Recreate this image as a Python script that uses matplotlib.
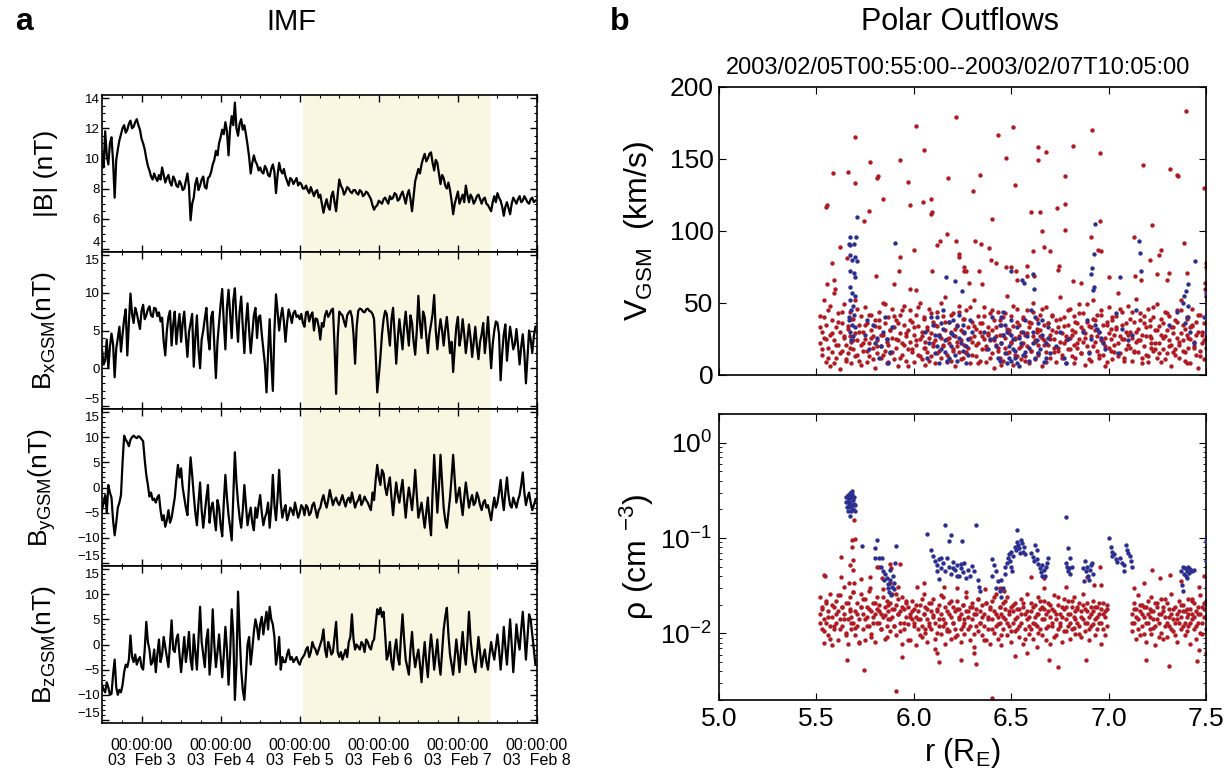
import numpy as np
import matplotlib
matplotlib.use("Agg")
import matplotlib.pyplot as plt
from matplotlib.ticker import MultipleLocator, FixedLocator, NullFormatter, LogLocator

plt.rcParams['font.family'] = ['Liberation Sans', 'DejaVu Sans']
plt.rcParams['mathtext.fontset'] = 'custom'
plt.rcParams['mathtext.rm'] = 'Liberation Sans'
plt.rcParams['mathtext.it'] = 'Liberation Sans:italic'

# ---------------- IMF data (days since 2003-02-03 00:00, ~30 min samples) ----------------
t_start, t_step = -0.5, 0.02
b_mag = [10.3, 9.4, 11.8, 10.2, 9.6, 11.0, 11.4, 9.8, 7.4, 9.9,
         10.6, 11.2, 11.6, 12.0, 12.2, 11.7, 11.9, 12.3, 12.5, 12.0,
         12.1, 12.4, 12.6, 12.2, 11.9, 11.3, 11.0, 10.6, 10.0, 9.5,
         9.2, 8.8, 8.6, 9.0, 8.7, 8.5, 8.9, 8.6, 9.4, 8.9,
         8.4, 8.7, 8.9, 8.4, 8.2, 8.8, 8.6, 8.2, 8.1, 8.5,
         8.3, 7.9, 8.0, 8.5, 9.0, 8.1, 5.9, 7.0, 7.4, 8.3,
         8.7, 7.9, 8.2, 8.6, 8.8, 8.1, 8.0, 8.7, 8.8, 9.1,
         9.6, 9.9, 10.5, 10.2, 11.0, 11.4, 11.9, 11.6, 12.4, 11.8,
         10.2, 12.0, 12.8, 12.2, 13.7, 12.0, 11.5, 12.3, 12.6, 11.9,
         12.2, 11.6, 10.9, 10.1, 9.0, 9.7, 10.2, 9.8, 9.6, 9.2,
         9.4, 9.1, 9.0, 9.5, 9.3, 8.9, 8.8, 9.3, 9.6, 9.1,
         7.7, 8.9, 9.7, 9.2, 9.0, 9.3, 8.8, 8.5, 8.2, 8.7,
         8.6, 8.3, 8.5, 8.7, 8.2, 8.4, 8.3, 8.0, 8.0, 8.2,
         7.9, 7.7, 8.1, 7.8, 7.5, 7.8, 7.9, 7.4, 7.6, 7.0,
         6.4, 6.9, 7.3, 6.8, 6.6, 7.5, 7.8, 7.1, 6.5, 7.6,
         8.6, 8.2, 8.0, 7.6, 7.8, 8.1, 8.0, 7.8, 7.7, 7.9,
         7.9, 7.7, 7.6, 7.9, 7.8, 7.5, 7.6, 7.8, 7.7, 7.5,
         7.3, 6.9, 6.6, 6.8, 6.9, 7.2, 7.1, 7.0, 7.3, 7.4,
         7.2, 7.0, 7.5, 7.3, 7.4, 7.7, 7.6, 7.2, 7.3, 7.6,
         7.8, 7.4, 7.0, 7.6, 7.9, 7.3, 6.5, 7.5, 8.5, 8.9,
         9.3, 9.0, 9.6, 10.0, 10.3, 9.8, 10.0, 10.3, 10.4, 9.7,
         9.2, 9.9, 9.7, 9.0, 8.3, 8.9, 8.7, 8.2, 8.0, 8.4,
         7.9, 7.2, 6.3, 7.0, 7.4, 7.8, 7.0, 7.3, 7.6, 7.1,
         8.2, 7.6, 7.1, 7.6, 7.4, 7.0, 7.2, 7.5, 7.6, 7.3,
         7.0, 7.3, 7.4, 7.0, 6.9, 6.7, 6.5, 7.1, 7.5, 7.1,
         7.7, 7.4, 7.2, 6.8, 6.2, 6.8, 7.1, 6.7, 6.3, 7.0,
         7.4, 7.2, 7.0, 7.3, 7.5, 7.1, 7.2, 7.5, 7.3, 7.1,
         7.0, 7.3, 7.4, 7.1, 7.2]
bx_gsm = [2.5, 0.5, 1.0, 3.8, 0.0, 2.8, 4.6, 3.2, -1.2, 2.6,
          4.0, 5.5, 2.2, 4.5, 6.5, 7.8, 1.7, 6.0, 9.9, 7.2,
          6.0, 8.0, 7.3, 6.2, 5.2, 7.6, 8.4, 6.5, 7.0, 7.8,
          8.2, 7.0, 6.8, 8.0, 7.9, 6.9, 7.4, 6.2, 6.7, 3.5,
          1.7, 5.0, 6.8, 7.6, 3.0, 5.8, 7.5, 3.2, 5.5, 7.2,
          3.5, 6.0, 7.5, 4.2, 1.5, 4.8, 6.0, 7.2, 0.2, 4.0,
          7.0, 2.5, 0.0, 3.8, 5.0, 6.6, 8.0, 4.2, 2.5, 6.8,
          7.5, 3.0, -1.3, 3.5, 6.0, 8.5, 10.5, 6.0, 2.5, 8.0,
          10.4, 7.2, 4.0, 9.0, 10.6, 6.5, 3.5, 7.5, 9.5, 5.5,
          2.0, 6.0, 8.6, 5.0, 2.0, 4.5, 7.0, 8.0, 4.0, 6.8,
          7.0, 4.5, 2.5, 0.5, -3.2, 2.0, 6.5, 1.0, -3.0, 5.0,
          9.8, 7.5, 5.0, 6.8, 8.0, 6.2, 3.5, 6.0, 7.8, 7.0,
          6.0, 7.3, 7.6, 6.8, 7.0, 6.5, 7.2, 6.0, 5.5, 7.4,
          7.5, 6.2, 7.0, 7.4, 5.0, 6.6, 6.5, 5.5, 3.8, 6.0,
          5.5, 7.0, 7.6, 6.8, 7.2, 7.7, 7.9, 3.0, -3.4, 4.0,
          7.5, 7.2, 7.0, 6.2, 5.5, 7.0, 7.4, 7.6, 6.8, 4.5,
          0.6, 5.5, 7.6, 7.9, 7.8, 7.5, 7.4, 7.8, 7.9, 7.6,
          7.5, 7.2, 6.5, 2.0, -3.2, -1.0, 1.5, 4.5, 6.5, 7.6,
          7.2, 5.0, 3.0, 6.5, 8.0, 4.5, 0.6, 4.0, 6.5, 4.5,
          2.5, 5.5, 7.5, 5.0, 3.0, 7.0, 6.0, 3.5, 1.8, 5.0,
          9.6, 6.0, 4.0, 7.5, 6.8, 4.2, 2.0, 4.5, 5.8, 7.2,
          9.7, 5.0, 2.5, 4.8, 6.5, 5.0, 3.0, 5.2, 6.8, 4.5,
          2.0, 3.5, -0.5, 2.8, 5.5, 6.8, 3.0, 4.2, 6.5, 4.5,
          2.0, 3.8, 5.8, 4.0, 1.5, 3.5, 5.5, 3.0, 1.2, 3.5,
          4.5, 6.0, 2.0, 4.0, 6.8, 3.5, 0.0, 3.2, 5.0, 6.2,
          6.0, 4.5, -1.6, 2.0, 4.5, 5.8, 1.0, 3.5, 5.5, 4.0,
          2.5, 3.2, 5.2, 3.0, 0.5, 2.8, 4.5, 2.0, -2.0, 1.5,
          5.0, 3.8, 2.0, 4.2, 5.5]
by_gsm = [-4.5, -3.0, -1.5, -5.0, 0.5, -1.0, -2.0, -6.5, -9.5, -7.0,
          -4.0, -3.0, -1.5, 5.0, 10.3, 9.5, 9.0, 8.2, 9.5, 10.0,
          10.3, 10.0, 9.8, 10.2, 10.0, 9.6, 9.2, 5.5, 2.5, 0.5,
          -1.8, -1.0, -2.5, -2.2, -3.0, -2.0, -1.5, -4.5, -6.5, -5.5,
          -7.8, -6.5, -4.5, -7.0, -6.0, -4.0, -2.0, 1.5, 4.5, 2.0,
          3.8, 0.0, -2.0, -4.0, -5.5, 0.5, 6.0, 2.5, -1.5, -5.0,
          -7.5, -3.0, 1.0, -4.5, -8.0, -5.0, -2.0, 0.5, -7.0, -4.0,
          -3.0, -6.0, -8.5, -2.5, -4.0, -7.5, -9.7, -3.0, 2.5, -2.0,
          -5.5, -8.0, -10.5, -2.0, 7.0, 1.0, -3.0, -6.0, -8.0, -4.5,
          0.5, -3.5, -7.5, -5.5, -4.0, -7.0, -8.5, -4.0, -6.0, -3.5,
          -1.5, -5.0, -7.5, -6.0, -5.0, -3.0, -8.0, -4.0, 2.5, -3.5,
          -6.5, -2.0, 3.5, -3.0, -6.0, -4.5, -3.5, -6.5, -5.5, -4.0,
          -4.5, -5.5, -3.0, -4.5, -6.0, -5.0, -3.5, -4.0, -5.5, -3.5,
          -4.0, -5.5, -5.0, -3.5, -3.0, -4.5, -6.0, -4.5, -4.0, -2.5,
          -1.5, -3.0, -4.0, -2.5, -0.5, -2.0, -3.5, -2.5, -2.0, -3.0,
          -3.5, -2.5, -1.5, -2.8, -3.8, -2.5, -2.0, -3.0, -1.0, -2.5,
          -4.0, -3.0, -2.5, -1.5, -3.5, -2.8, -1.8, -2.5, -3.0, -3.8,
          -4.5, -1.0, -2.5, 1.5, 4.5, 2.0, 0.5, 3.5, 2.8, 0.0,
          -1.5, 0.5, 2.0, -2.0, -5.5, -2.0, 1.0, -1.5, -3.0, -0.5,
          1.5, -2.5, -6.0, -2.5, 0.0, -2.0, -4.5, -1.0, 3.5, -1.5,
          -6.0, -4.5, -3.0, -5.5, -8.0, -5.0, -2.0, -6.5, -9.5, -1.0,
          6.5, 0.5, -5.0, 0.0, 6.5, 1.0, -4.0, -6.5, -8.0, -5.0,
          -2.0, 2.0, 6.5, 1.5, -3.0, -1.5, 0.0, -3.0, -5.5, -2.0,
          1.0, -1.5, -4.0, -2.5, -1.5, -3.5, -3.0, -1.0, -2.0, -3.5,
          -4.5, -3.0, -2.5, -4.0, -3.5, -5.0, -6.5, -4.0, -2.0, -4.0,
          -3.0, -1.0, 1.5, -2.0, -4.5, -1.0, 2.0, -1.5, -3.5, -4.0,
          -2.0, -3.0, -4.0, -2.5, -1.5, 0.5, 3.0, -1.0, -3.5, -2.0,
          -1.0, -3.0, -4.5, -3.5, -2.5]
bz_gsm = [-8.0, -9.0, -9.5, -7.5, -8.5, -10.0, -9.8, -6.0, -3.0, -8.5,
          -10.0, -9.0, -9.5, -8.0, -5.5, -4.0, -4.5, -3.0, 1.8, -2.5,
          -3.5, -2.0, -4.0, -3.0, -2.5, -4.5, -5.0, -1.0, 4.5, 0.5,
          -1.0, -4.0, -3.5, -1.0, -5.5, -2.0, 1.0, -3.5, -2.0, 1.5,
          -0.5, -2.5, -4.5, 0.0, 4.8, -1.0, -1.5, 1.0, 2.0, -2.0,
          -5.5, -2.0, 1.5, -3.5, -1.0, 2.5, -3.0, -5.0, 2.0, -1.5,
          -5.0, 1.0, 7.5, 0.5, -2.0, -4.5, 1.0, 3.0, -6.0, -2.0,
          7.0, 0.0, -4.5, -1.5, 2.0, -2.5, -6.5, -2.0, 3.5, -1.0,
          -8.0, -2.0, 7.0, 2.0, -11.0, -4.0, 10.5, 2.0, -5.0, -9.0,
          -11.0, -6.0, 0.0, 1.5, -4.0, -1.0, 2.5, 5.0, 3.5, 1.0,
          4.0, 5.5, 2.0, 4.5, 6.5, 3.0, 7.5, 5.0, 4.0, 1.5,
          -4.0, -2.0, 1.5, -5.0, -2.5, -3.5, -3.5, -2.0, -1.0, -3.0,
          -2.5, -3.5, -3.0, -2.5, -3.5, -4.0, -3.0, -2.5, -2.0, -1.0,
          -0.5, -2.5, -1.5, 0.5, -0.5, -1.0, -2.0, -1.0, 0.0, 1.0,
          3.0, -1.0, -2.5, 0.5, -0.5, -2.0, -1.5, 1.5, 4.5, -1.5,
          -2.5, -1.5, -3.0, -2.0, -1.0, -2.5, 0.5, 1.5, 6.0, 1.0,
          -1.0, 0.0, -0.5, -1.0, 0.5, 0.0, -1.5, 1.0, 0.5, -0.5,
          -1.0, 0.5, 1.0, 4.0, 7.0, 6.0, 7.3, 5.5, 6.5, 2.0,
          -3.0, -2.0, 0.5, -3.5, -5.0, -1.0, 1.0, -2.5, -4.0, 1.5,
          6.0, 1.0, -3.0, -4.5, -6.0, -1.0, 2.5, -2.0, -4.5, -2.5,
          -1.0, -4.0, -7.5, -3.0, 0.5, -3.5, -6.5, -1.5, 2.0, -1.0,
          -5.0, -2.0, 1.0, -3.5, -6.0, -1.5, 3.0, 5.5, 7.3, 2.0,
          -2.0, -4.0, -6.0, -2.5, 1.0, -2.0, -5.5, -1.0, 2.5, -1.5,
          -4.0, 0.5, 6.5, 1.0, -2.0, -4.0, -5.5, -2.0, 1.5, -1.5,
          -4.5, -2.5, -1.0, -3.5, -5.0, -2.0, 0.5, -1.5, -3.0, -0.5,
          2.0, -1.0, -5.0, -1.5, 3.5, -0.5, -4.0, 0.5, 5.0, 0.0,
          -5.5, -1.0, 4.0, 1.0, -1.0, 3.0, 6.5, 2.0, -3.0, 1.5,
          6.0, 5.0, 2.0, -1.0, -4.0]
t_days = t_start + t_step * np.arange(len(b_mag))

# interval used for the Polar outflow panel (2003/02/05T00:55 -- 2003/02/07T10:05)
shade_start = 2 + 55 / 1440
shade_end = 4 + 605 / 1440
day_labels = ['00:00:00\n03  Feb 3', '00:00:00\n03  Feb 4', '00:00:00\n03  Feb 5',
              '00:00:00\n03  Feb 6', '00:00:00\n03  Feb 7', '00:00:00\n03  Feb 8']

# ---------------- Polar outflow data: r (R_E) vs V_GSM (km/s) ----------------
v_red_cols = [
    (5.52, 22, 41, 33), (5.53, 14, 30, 18), (5.54, 52, 26, 40), (5.55, 9, 35, 25), (5.56, 19, 45, 12),
    (5.57, 28, 6, 48), (5.58, 38, 16, 29), (5.59, 24, 57, 8), (5.60, 12, 33, 21), (5.61, 43, 21, 37),
    (5.62, 30, 4, 15), (5.63, 17, 36, 44), (5.64, 26, 49, 27), (5.65, 11, 21, 10), (5.66, 34, 15, 32),
    (5.67, 27, 44, 19), (5.68, 8, 23, 39), (5.69, 39, 18, 24), (5.70, 29, 52, 13), (5.71, 14, 24, 46),
    (5.72, 35, 10, 30), (5.73, 21, 41, 7), (5.74, 17, 30, 22), (5.75, 47, 25, 35), (5.76, 9, 36, 17),
    (5.77, 22, 13, 42), (5.78, 31, 42, 26), (5.79, 19, 27, 11), (5.80, 5, 38, 34), (5.81, 24, 15, 20),
    (5.82, 44, 33, 38), (5.83, 12, 20, 28), (5.84, 28, 50, 14), (5.85, 36, 17, 49), (5.86, 8, 25, 23),
    (5.87, 40, 21, 9), (5.88, 15, 31, 31), (5.89, 26, 46, 16), (5.90, 33, 11, 41), (5.91, 19, 38, 25),
    (5.92, 24, 6, 36), (5.93, 42, 29, 12), (5.94, 14, 22, 45), (5.95, 35, 48, 21), (5.96, 10, 27, 29),
    (5.97, 31, 18, 6), (5.98, 45, 23, 38), (5.99, 16, 37, 18), (6.00, 28, 9, 33), (6.01, 21, 42, 24),
    (6.02, 34, 14, 47), (6.03, 25, 50, 13), (6.04, 11, 30, 27), (6.05, 39, 19, 40), (6.06, 23, 7, 19),
    (6.07, 16, 33, 31), (6.08, 46, 26, 10), (6.09, 29, 13, 43), (6.10, 20, 37, 22), (6.11, 8, 24, 35),
    (6.12, 34, 44, 15), (6.13, 17, 28, 28), (6.14, 26, 12, 50), (6.15, 41, 21, 20), (6.16, 31, 54, 37),
    (6.17, 14, 25, 9), (6.18, 22, 37, 26), (6.19, 10, 30, 42), (6.20, 43, 18, 17), (6.21, 27, 6, 32),
    (6.22, 35, 20, 23), (6.23, 16, 48, 44), (6.24, 24, 31, 11), (6.25, 12, 39, 30), (6.26, 29, 21, 39),
    (6.27, 45, 15, 16), (6.28, 19, 33, 25), (6.29, 8, 26, 47), (6.30, 37, 23, 14), (6.31, 27, 52, 34),
    (6.32, 13, 32, 21), (6.33, 22, 41, 8), (6.34, 30, 10, 36), (6.35, 18, 36, 27), (6.36, 47, 25, 41),
    (6.37, 9, 20, 18), (6.38, 33, 28, 29), (6.39, 24, 43, 12), (6.40, 15, 31, 45), (6.41, 38, 5, 24),
    (6.42, 21, 27, 33), (6.43, 44, 17, 19), (6.44, 28, 12, 38), (6.45, 35, 22, 7), (6.46, 10, 40, 28),
    (6.47, 26, 19, 43), (6.48, 32, 55, 15), (6.49, 16, 29, 31), (6.50, 41, 23, 22), (6.51, 7, 34, 48),
    (6.52, 25, 14, 26), (6.53, 37, 46, 13), (6.54, 19, 27, 35), (6.55, 30, 11, 20), (6.56, 22, 39, 40),
    (6.57, 13, 28, 10), (6.58, 45, 20, 29), (6.59, 33, 8, 37), (6.60, 17, 36, 17), (6.61, 27, 50, 44),
    (6.62, 11, 24, 23), (6.63, 39, 30, 32), (6.64, 21, 15, 14), (6.65, 31, 42, 27), (6.66, 6, 26, 46),
    (6.67, 24, 35, 21), (6.68, 16, 47, 9), (6.69, 36, 21, 36), (6.70, 28, 12, 25), (6.71, 42, 31, 41),
    (6.72, 19, 25, 16), (6.73, 9, 38, 30), (6.74, 33, 17, 19), (6.75, 23, 54, 39), (6.76, 14, 29, 12),
    (6.77, 40, 22, 34), (6.78, 27, 8, 24), (6.79, 18, 35, 45), (6.80, 46, 26, 18), (6.81, 31, 13, 28),
    (6.82, 21, 41, 8), (6.83, 12, 30, 37), (6.84, 36, 19, 22), (6.85, 25, 49, 43), (6.86, 15, 33, 15),
    (6.87, 43, 23, 31), (6.88, 29, 7, 26), (6.89, 20, 37, 49), (6.90, 34, 16, 11), (6.91, 10, 27, 33),
    (6.92, 39, 52, 20), (6.93, 23, 31, 38), (6.94, 17, 42, 27), (6.95, 30, 12, 14), (6.96, 45, 24, 42),
    (6.97, 14, 35, 23), (6.98, 26, 20, 6), (6.99, 37, 9, 35), (7.00, 19, 47, 29), (7.01, 32, 25, 17),
    (7.02, 11, 38, 40), (7.03, 28, 16, 21), (7.04, 41, 33, 32), (7.05, 22, 57, 13), (7.06, 15, 27, 46),
    (7.07, 35, 44, 25), (7.08, 25, 12, 10), (7.09, 18, 30, 36), (7.10, 48, 21, 28), (7.11, 30, 39, 19),
    (7.12, 10, 26, 44), (7.13, 37, 17, 16), (7.14, 23, 53, 30), (7.15, 16, 32, 24), (7.16, 43, 24, 38),
    (7.17, 28, 8, 12), (7.18, 20, 36, 41), (7.19, 33, 14, 27), (7.20, 13, 46, 9), (7.21, 38, 27, 34),
    (7.22, 26, 19, 22), (7.23, 17, 40, 47), (7.24, 31, 22, 18), (7.25, 49, 12, 31), (7.26, 22, 34, 15),
    (7.27, 9, 28, 39), (7.28, 36, 18, 26), (7.29, 27, 44, 11), (7.30, 15, 31, 43), (7.31, 41, 24, 20),
    (7.32, 21, 6, 33), (7.33, 33, 16, 29), (7.34, 18, 38, 14), (7.35, 45, 26, 37), (7.36, 12, 21, 23),
    (7.37, 29, 52, 45), (7.38, 24, 35, 17), (7.39, 16, 10, 32), (7.40, 39, 28, 8), (7.41, 26, 19, 40),
    (7.42, 8, 33, 25), (7.43, 34, 46, 35), (7.44, 20, 23, 19), (7.45, 14, 37, 28), (7.46, 30, 5, 42),
    (7.47, 42, 17, 13), (7.48, 22, 28, 30), (7.49, 11, 36, 24), (7.50, 19, 55, 26)]
v_red_sparse = [
    (5.55, 117), (5.555, 118), (5.584, 140), (5.58, 78), (5.663, 141), (5.70, 165), (5.70, 133),
    (5.62, 89), (5.658, 81), (5.743, 107), (5.774, 148), (5.769, 114), (5.812, 137), (5.815, 138),
    (5.808, 69), (5.842, 122), (5.928, 149), (5.93, 82), (5.925, 72), (5.97, 134), (5.983, 118),
    (6.012, 173), (6.003, 87), (6.051, 156), (6.048, 120), (6.089, 122), (6.086, 112), (6.092, 113),
    (6.12, 90), (6.134, 93), (6.171, 98), (6.176, 137), (6.216, 179), (6.216, 93), (6.231, 84),
    (6.231, 82), (6.257, 75), (6.257, 72), (6.27, 72), (6.303, 128), (6.312, 93), (6.334, 72),
    (6.342, 139), (6.346, 91), (6.385, 88), (6.402, 108), (6.394, 80), (6.423, 78), (6.431, 167),
    (6.471, 151), (6.471, 75), (6.50, 75), (6.51, 172), (6.517, 132), (6.526, 72), (6.582, 76),
    (6.604, 113), (6.613, 86), (6.64, 158), (6.64, 149), (6.646, 113), (6.658, 100), (6.668, 89),
    (6.68, 155), (6.70, 86), (6.736, 116), (6.745, 76), (6.741, 73), (6.777, 138), (6.777, 119),
    (6.776, 101), (6.818, 159), (6.908, 96), (6.913, 170), (6.954, 154), (6.954, 107), (6.947, 87),
    (6.959, 86), (7.13, 96), (7.178, 146), (7.221, 104), (7.212, 80), (7.267, 87), (7.259, 83),
    (7.313, 143), (7.353, 139), (7.358, 138), (7.387, 92), (7.399, 183), (7.49, 130), (7.50, 78),
    (7.50, 75), (7.493, 64), (7.00, 68), (7.135, 69), (7.31, 71), (7.40, 71), (7.495, 60),
    (7.30, 66), (7.25, 70), (7.164, 66), (6.86, 64), (6.818, 65), (6.616, 69), (6.582, 69),
    (6.53, 66), (6.351, 63), (6.283, 64), (6.094, 72), (6.009, 59), (5.983, 60), (5.897, 63),
    (5.589, 66), (5.555, 63), (5.598, 60)]
v_blue = [
    (5.709, 110), (5.675, 96), (5.705, 96), (5.666, 91), (5.671, 90), (5.692, 91), (5.675, 83),
    (5.70, 82), (5.683, 80), (5.709, 79), (5.671, 72), (5.692, 71), (5.70, 68), (5.671, 61),
    (5.683, 57), (5.672, 52), (5.688, 48), (5.676, 45), (5.695, 42), (5.668, 38), (5.684, 35),
    (5.70, 33), (5.674, 30), (5.69, 27), (5.68, 24), (5.665, 40), (5.698, 55), (5.906, 92),
    (6.163, 68), (6.21, 65), (6.248, 58), (6.497, 72), (6.553, 66), (6.565, 64), (6.611, 70),
    (6.616, 60), (6.93, 105), (6.925, 84), (6.913, 74), (6.908, 70), (6.925, 61), (6.92, 59),
    (7.156, 93), (7.16, 85), (7.164, 72), (7.06, 68), (7.41, 63), (7.443, 79), (7.399, 58),
    (7.387, 55), (7.50, 57),
    (5.75, 28), (5.77, 18), (5.79, 35), (5.80, 22), (5.82, 12), (5.84, 30), (5.85, 40), (5.86, 25),
    (5.88, 16), (5.89, 33), (5.87, 8), (5.76, 38), (5.81, 26), (5.83, 20),
    (6.06, 30), (6.08, 22), (6.10, 35), (6.11, 15), (6.12, 40), (6.13, 27), (6.14, 18), (6.15, 32),
    (6.16, 24), (6.17, 10), (6.18, 37), (6.19, 20), (6.20, 28), (6.21, 14), (6.22, 34), (6.23, 42),
    (6.24, 22), (6.25, 17), (6.26, 30), (6.27, 8), (6.28, 25), (6.29, 38), (6.15, 45), (6.19, 29),
    (6.12, 20), (6.07, 12), (6.09, 40), (6.11, 28), (6.13, 8), (6.14, 36), (6.16, 16), (6.18, 12),
    (6.20, 38), (6.22, 10), (6.23, 26), (6.25, 35), (6.27, 20), (6.28, 14), (6.30, 30),
    (6.36, 30), (6.38, 18), (6.40, 40), (6.41, 26), (6.43, 12), (6.44, 35), (6.45, 22), (6.46, 44),
    (6.47, 15), (6.48, 30), (6.49, 20), (6.50, 10), (6.51, 25), (6.52, 17), (6.53, 33), (6.54, 6),
    (6.55, 22), (6.56, 14), (6.57, 38), (6.58, 27), (6.59, 19), (6.60, 45), (6.61, 30), (6.62, 12),
    (6.63, 24), (6.64, 36), (6.65, 18), (6.66, 28), (6.67, 9), (6.68, 22), (6.69, 33), (6.70, 15),
    (6.50, 28), (6.52, 12), (6.48, 8), (6.46, 28), (6.39, 25), (6.42, 20), (6.44, 10), (6.45, 40),
    (6.47, 35), (6.49, 12), (6.50, 38), (6.51, 18), (6.53, 8), (6.54, 26), (6.56, 30), (6.57, 16),
    (6.59, 10), (6.61, 22), (6.62, 40), (6.64, 15), (6.66, 38), (6.68, 12), (6.69, 26),
    (6.73, 20), (6.75, 30), (6.77, 12), (6.79, 25), (6.78, 8),
    (6.87, 30), (6.89, 38), (6.91, 25), (6.93, 35), (6.94, 32), (6.95, 30), (6.96, 26), (6.97, 22),
    (6.98, 18), (6.90, 15),
    (7.04, 43), (7.07, 32), (7.10, 24), (7.12, 28), (7.14, 45), (7.05, 15),
    (7.31, 35), (7.35, 44), (7.38, 50), (7.40, 40), (7.42, 30), (7.44, 22), (7.39, 36), (7.41, 48),
    (7.49, 40), (7.50, 30)]

# ---------------- Polar outflow data: r (R_E) vs density (cm^-3) ----------------
rho_red_cols = [
    (5.52, .016, .024, .013), (5.53, .011, .019, .018), (5.54, .008, .014, .0105), (5.55, .021, .013, .022),
    (5.56, .017, .0095, .015), (5.57, .012, .026, .0088), (5.58, .015, .0075, .020), (5.59, .019, .011, .012),
    (5.60, .013, .022, .016), (5.61, .0085, .017, .025), (5.62, .025, .014, .011), (5.63, .012, .019, .019),
    (5.64, .016, .031, .014), (5.65, .010, .021, .0095), (5.66, .014, .0078, .021), (5.67, .018, .024, .017),
    (5.68, .011, .015, .013), (5.69, .027, .013, .027), (5.70, .017, .0095, .0115), (5.71, .021, .012, .016),
    (5.72, .014, .008, .0082), (5.73, .019, .026, .019), (5.74, .011, .016, .023), (5.75, .023, .0085, .014),
    (5.76, .015, .019, .012), (5.77, .012, .028, .018), (5.78, .017, .0092, .0098), (5.79, .021, .013, .015),
    (5.80, .0082, .016, .021), (5.81, .024, .018, .013), (5.82, .013, .020, .017), (5.83, .016, .011, .011),
    (5.84, .029, .015, .024), (5.85, .019, .0088, .0155), (5.86, .012, .022, .0092), (5.87, .017, .014, .020),
    (5.88, .021, .0105, .014), (5.89, .015, .026, .018), (5.90, .018, .012, .012), (5.91, .0095, .020, .026),
    (5.92, .016, .023, .016), (5.93, .013, .017, .0105), (5.94, .024, .0078, .019), (5.95, .011, .018, .013),
    (5.96, .015, .021, .022), (5.97, .019, .0125, .0085), (5.98, .0085, .016, .015), (5.99, .022, .014, .017),
    (6.00, .013, .018, .012), (6.01, .0075, .015, .020), (6.02, .017, .011, .014), (6.03, .020, .014, .0095),
    (6.04, .012, .0092, .023), (6.05, .016, .026, .016), (6.06, .010, .019, .011), (6.07, .014, .0082, .018),
    (6.08, .021, .012, .013), (6.09, .011, .017, .021), (6.10, .015, .023, .0155), (6.11, .0068, .013, .0088),
    (6.12, .018, .010, .017), (6.13, .014, .020, .012), (6.14, .0098, .016, .025), (6.15, .024, .012, .014),
    (6.16, .013, .0078, .019), (6.17, .017, .011, .0105), (6.18, .0105, .021, .016), (6.19, .015, .0088, .022),
    (6.20, .019, .013, .013), (6.21, .011, .017, .0092), (6.22, .022, .0095, .018), (6.23, .014, .018, .015),
    (6.24, .0082, .016, .011), (6.25, .020, .012, .020), (6.26, .013, .0098, .014), (6.27, .017, .024, .027),
    (6.28, .011, .015, .017), (6.29, .019, .0085, .012), (6.30, .014, .021, .019), (6.31, .0072, .016, .0098),
    (6.32, .018, .012, .016), (6.33, .023, .0105, .023), (6.34, .013, .017, .013), (6.35, .0095, .020, .015),
    (6.36, .016, .012, .0085), (6.37, .021, .0085, .021), (6.38, .011, .015, .014), (6.39, .0078, .019, .018),
    (6.40, .014, .022, .011), (6.41, .017, .010, .024), (6.42, .012, .026, .016), (6.43, .0088, .015, .0125),
    (6.44, .019, .013, .019), (6.45, .016, .0075, .0095), (6.46, .011, .021, .015), (6.47, .014, .018, .022),
    (6.48, .024, .0095, .013), (6.49, .012, .016, .017), (6.50, .0082, .019, .0105), (6.51, .017, .013, .020),
    (6.52, .021, .0105, .014), (6.53, .015, .011, .018), (6.54, .0092, .018, .012), (6.55, .013, .023, .016),
    (6.56, .019, .0078, .021), (6.57, .011, .016, .0088), (6.58, .026, .014, .017), (6.59, .0098, .012, .015),
    (6.60, .017, .021, .011), (6.61, .013, .0088, .019), (6.62, .020, .015, .0125), (6.63, .0072, .012, .016),
    (6.64, .016, .024, .010), (6.65, .011, .018, .022), (6.66, .019, .0095, .014), (6.67, .014, .022, .018),
    (6.68, .0085, .016, .0115), (6.69, .021, .012, .017), (6.70, .015, .0078, .020), (6.71, .012, .018, .013),
    (6.72, .017, .025, .0092), (6.73, .0095, .014, .016), (6.74, .020, .011, .024), (6.75, .013, .016, .012),
    (6.76, .0082, .019, .015), (6.77, .018, .023, .0105), (6.78, .014, .0105, .019), (6.79, .022, .012, .016),
    (6.80, .016, .0088, .013), (6.81, .011, .019, .022), (6.82, .015, .024, .0115), (6.83, .0098, .017, .014),
    (6.84, .019, .013, .018), (6.85, .012, .021, .0098), (6.86, .017, .0092, .015), (6.87, .014, .026, .020),
    (6.88, .0105, .018, .013), (6.89, .021, .013, .017), (6.90, .015, .0085, .011), (6.91, .012, .019, .016),
    (6.92, .017, .022, .0125), (6.93, .0095, .014, .019), (6.94, .019, .011, .015), (6.95, .013, .016, .021),
    (6.96, .018, .0078, .013), (6.97, .011, .021, .016), (6.98, .015, .017, .0095), (6.99, .020, .012, .018),
    (7.12, .016, .0105, .013), (7.13, .021, .013, .018), (7.14, .0088, .018, .015), (7.15, .014, .025, .011),
    (7.16, .017, .0095, .020), (7.17, .012, .020, .016), (7.18, .019, .015, .0098), (7.19, .0082, .013, .019),
    (7.20, .016, .022, .013), (7.21, .011, .018, .015), (7.22, .024, .0098, .017), (7.23, .014, .017, .0115),
    (7.24, .0075, .012, .021), (7.25, .019, .021, .014), (7.26, .013, .016, .0092), (7.27, .010, .023, .016),
    (7.28, .017, .0088, .019), (7.29, .015, .012, .023), (7.30, .021, .0092, .013), (7.31, .012, .018, .015),
    (7.32, .016, .026, .011), (7.33, .0105, .014, .018), (7.34, .019, .013, .0095), (7.35, .014, .0082, .016),
    (7.36, .022, .017, .013), (7.37, .011, .015, .020), (7.38, .017, .020, .012), (7.39, .0095, .013, .017),
    (7.40, .015, .018, .0105), (7.41, .012, .023, .016), (7.42, .018, .0078, .013), (7.43, .014, .016, .022),
    (7.44, .021, .011, .015), (7.45, .0088, .017, .012), (7.46, .016, .013, .019), (7.47, .025, .010, .016),
    (7.48, .013, .019, .0098), (7.49, .018, .015, .021), (7.50, .011, .022, .015)]
rho_red_sparse = [
    (5.538, .041), (5.546, .040), (5.627, .064), (5.695, .153), (5.683, .096), (5.70, .098),
    (5.683, .080), (5.69, .059), (5.675, .052), (5.688, .046), (5.666, .034), (5.692, .034),
    (5.627, .039), (5.73, .037), (5.777, .039), (5.82, .050), (5.88, .053), (5.93, .053),
    (5.657, .0053), (5.743, .0041), (5.91, .0025), (5.94, .0057), (6.128, .005), (6.12, .0062),
    (6.24, .0053), (6.308, .0062), (6.317, .0048), (6.402, .0021), (6.522, .0058), (6.582, .0062),
    (6.693, .0053), (6.74, .0044), (6.882, .0053), (7.19, .0053), (7.31, .0045), (7.452, .0051),
    (7.50, .0062), (7.464, .0067), (7.49, .040), (7.464, .031), (7.43, .023), (7.37, .035),
    (7.263, .038), (7.221, .046), (7.315, .041), (7.13, .030), (7.18, .034), (6.954, .050),
    (6.959, .032), (6.89, .039), (6.925, .032), (6.78, .031), (6.668, .038), (6.60, .039),
    (6.668, .030), (6.445, .030), (6.462, .028), (6.368, .029), (6.223, .030), (6.154, .031),
    (6.05, .034), (6.014, .031), (5.88, .034), (5.837, .038), (5.777, .030), (5.884, .049),
    (5.81, .050), (5.918, .031)]
rho_blue = [
    (5.650, .27), (5.653, .24), (5.656, .21), (5.66, .28), (5.662, .19), (5.665, .23), (5.668, .26),
    (5.67, .21), (5.672, .30), (5.675, .24), (5.678, .19), (5.68, .27), (5.682, .22), (5.685, .29),
    (5.688, .25), (5.69, .20), (5.692, .27), (5.695, .23), (5.698, .19), (5.70, .22), (5.673, .17),
    (5.683, .31), (5.66, .245),
    (5.735, .082), (5.80, .078), (5.81, .096), (5.80, .062), (5.82, .062), (5.835, .062), (5.83, .050),
    (5.84, .045), (5.85, .042), (5.845, .036), (5.86, .038), (5.87, .033), (5.865, .030), (5.88, .036),
    (5.875, .027), (5.89, .031), (5.885, .025), (5.895, .040), (5.90, .034), (5.91, .082), (5.905, .055),
    (5.90, .029), (5.88, .046),
    (6.07, .11), (6.16, .138), (6.19, .107), (6.18, .092), (6.245, .092), (6.32, .138), (6.09, .075),
    (6.10, .065), (6.11, .058), (6.12, .052), (6.13, .06), (6.14, .048), (6.15, .055), (6.16, .045),
    (6.17, .062), (6.18, .05), (6.19, .042), (6.20, .056), (6.21, .046), (6.22, .052), (6.23, .04),
    (6.24, .048), (6.25, .044), (6.26, .055), (6.27, .038), (6.28, .046), (6.29, .04), (6.30, .051),
    (6.31, .045), (6.12, .045), (6.14, .062), (6.20, .048), (6.22, .04), (6.24, .054), (6.13, .037),
    (6.33, .036), (6.335, .031), (6.34, .028),
    (6.40, .06), (6.41, .052), (6.42, .045), (6.40, .04), (6.43, .035), (6.42, .03), (6.44, .028),
    (6.45, .024), (6.45, .036), (6.46, .03), (6.47, .05), (6.47, .042), (6.48, .055), (6.485, .062),
    (6.49, .068), (6.495, .058), (6.50, .072), (6.50, .05), (6.505, .045), (6.51, .065), (6.52, .08),
    (6.525, .075), (6.53, .09), (6.535, .085), (6.54, .078), (6.545, .07), (6.55, .095), (6.555, .088),
    (6.56, .072), (6.565, .08), (6.53, .12), (6.57, .068),
    (6.60, .07), (6.61, .064), (6.615, .058), (6.63, .075), (6.62, .085), (6.63, .06), (6.64, .054),
    (6.65, .048), (6.655, .044), (6.66, .052), (6.67, .046), (6.675, .04), (6.68, .05), (6.685, .055),
    (6.66, .04), (6.69, .062),
    (6.78, .055), (6.785, .05), (6.79, .045), (6.795, .048), (6.80, .042), (6.78, .166), (6.79, .078),
    (6.80, .062), (6.81, .05), (6.88, .058), (6.885, .045), (6.89, .05), (6.895, .04), (6.90, .036),
    (6.905, .046), (6.91, .052), (6.915, .055), (6.92, .042), (6.875, .035), (6.87, .048),
    (7.00, .1), (7.01, .08), (7.015, .072), (7.02, .065), (7.03, .068), (7.04, .06), (7.045, .056),
    (7.06, .062), (7.07, .055), (7.08, .052), (7.09, .085), (7.095, .075), (7.10, .07), (7.11, .065),
    (7.115, .058), (7.12, .05), (7.08, .045),
    (7.37, .045), (7.38, .05), (7.385, .042), (7.39, .048), (7.395, .04), (7.40, .045), (7.405, .038),
    (7.41, .05), (7.415, .043), (7.42, .047), (7.375, .032), (7.38, .028), (7.43, .045), (7.44, .046),
    (7.50, .092), (7.50, .058)]


def expand_cols(cols):
    pts = []
    for r, *vals in cols:
        for v in vals:
            pts.append((r, v))
    return pts


RED = '#b01a22'
BLUE = '#2b2f8f'
SHADE = '#f9f7e1'

W, H = 1232, 775
fig = plt.figure(figsize=(W / 100, H / 100), dpi=100)


def frac(x0, y0, x1, y1):
    # pixel box -> figure fraction [left, bottom, width, height]
    return [x0 / W, 1 - y1 / H, (x1 - x0) / W, (y1 - y0) / H]


# ---------------- left: IMF panels ----------------
imf_panels = [
    (b_mag, (3.8, 14.2), [4, 6, 8, 10, 12, 14], 0.5, r'|B| (nT)'),
    (bx_gsm, (-5.4, 15.4), [-5, 0, 5, 10, 15], 1, r'B$_{\mathrm{xGSM}}$(nT)'),
    (by_gsm, (-15.6, 15.6), [-15, -10, -5, 0, 5, 10, 15], 1, r'B$_{\mathrm{yGSM}}$(nT)'),
    (bz_gsm, (-15.6, 15.6), [-15, -10, -5, 0, 5, 10, 15], 1, r'B$_{\mathrm{zGSM}}$(nT)'),
]
edges = [95, 252, 409, 566, 723]
for k, (vals, ylim, yticks, yminor, ylabel) in enumerate(imf_panels):
    ax = fig.add_axes(frac(102, edges[k], 537, edges[k + 1]))
    ax.axvspan(shade_start, shade_end, color=SHADE, lw=0, zorder=0)
    ax.plot(t_days, vals, color='black', lw=1.6, zorder=2)
    ax.set_xlim(-0.5, 5.0)
    ax.set_ylim(*ylim)
    ax.set_yticks(yticks)
    ax.yaxis.set_minor_locator(MultipleLocator(yminor))
    ax.xaxis.set_major_locator(FixedLocator(range(6)))
    ax.xaxis.set_minor_locator(MultipleLocator(0.25))
    ax.tick_params(which='both', direction='in', top=True, right=True, labelsize=9.5, pad=1.5)
    ax.tick_params(which='major', length=5, width=1)
    ax.tick_params(which='minor', length=2.5, width=0.8)
    for s in ax.spines.values():
        s.set_linewidth(1.2)
    # edge labels squeezed apart at the panel joins, as in the original
    ylabels = ax.get_yticklabels()
    ylabels[0].set_va('bottom')
    if k > 0:
        ylabels[-1].set_va('top')
    ax.set_ylabel(ylabel, fontsize=19)
    ax.yaxis.set_label_coords(-0.10, 0.5)
    if k == 3:
        ax.set_xticklabels(day_labels, fontsize=11.5, linespacing=1.0)
        ax.tick_params(axis='x', which='major', pad=11)
    else:
        ax.xaxis.set_major_formatter(NullFormatter())

fig.text(15 / W, 1 - 22 / H, 'a', fontsize=23, fontweight='bold', va='center', ha='left')
fig.text(291 / W, 1 - 22 / H, 'IMF', fontsize=21, va='center', ha='center')
fig.text(610 / W, 1 - 22 / H, 'b', fontsize=23, fontweight='bold', va='center', ha='left')
fig.text(960 / W, 1 - 22 / H, 'Polar Outflows', fontsize=22, va='center', ha='center')
fig.text(958 / W, 1 - 68 / H, '2003/02/05T00:55:00--2003/02/07T10:05:00', fontsize=17,
         va='center', ha='center')

# ---------------- right: Polar outflows ----------------
axV = fig.add_axes(frac(719, 87, 1206, 375))
red_v = expand_cols(v_red_cols) + v_red_sparse
rx, ry = zip(*red_v)
bx_, by_ = zip(*v_blue)
axV.scatter(rx, ry, s=10, color=RED, lw=0, zorder=2)
axV.scatter(bx_, by_, s=10, color=BLUE, lw=0, zorder=3)
axV.set_xlim(5.0, 7.5)
axV.set_ylim(0, 200)
axV.set_yticks([0, 50, 100, 150, 200])
axV.set_xticks([5.0, 5.5, 6.0, 6.5, 7.0, 7.5])
axV.xaxis.set_major_formatter(NullFormatter())
axV.tick_params(direction='in', top=True, right=True, labelsize=19, length=5, pad=4)
axV.set_ylabel(r'V$_{\mathrm{GSM}}$  (km/s)', fontsize=23)
axV.yaxis.set_label_coords(-0.13, 0.5)

axR = fig.add_axes(frac(719, 414, 1206, 700))
red_r = expand_cols(rho_red_cols) + rho_red_sparse
rx, ry = zip(*red_r)
bx_, by_ = zip(*rho_blue)
axR.scatter(rx, ry, s=10, color=RED, lw=0, zorder=2)
axR.scatter(bx_, by_, s=10, color=BLUE, lw=0, zorder=3)
axR.set_yscale('log')
axR.set_xlim(5.0, 7.5)
axR.set_ylim(0.002, 2)
axR.yaxis.set_major_locator(FixedLocator([0.01, 0.1, 1]))
axR.yaxis.set_minor_locator(LogLocator(base=10, subs=np.arange(2, 10)))
axR.yaxis.set_minor_formatter(NullFormatter())
axR.set_xticks([5.0, 5.5, 6.0, 6.5, 7.0, 7.5])
axR.set_xticklabels(['5.0', '5.5', '6.0', '6.5', '7.0', '7.5'])
axR.tick_params(which='both', direction='in', top=True, right=True, labelsize=19, pad=5)
axR.tick_params(which='major', length=5)
axR.tick_params(which='minor', length=2.5)
axR.set_ylabel(r'ρ (cm $^{-3}$)', fontsize=23)
axR.yaxis.set_label_coords(-0.13, 0.5)
axR.set_xlabel(r'r (R$_{\mathrm{E}}$)', fontsize=22, labelpad=4)

for ax in (axV, axR):
    for s in ax.spines.values():
        s.set_linewidth(1.2)

fig.savefig('out.png', dpi=100)
